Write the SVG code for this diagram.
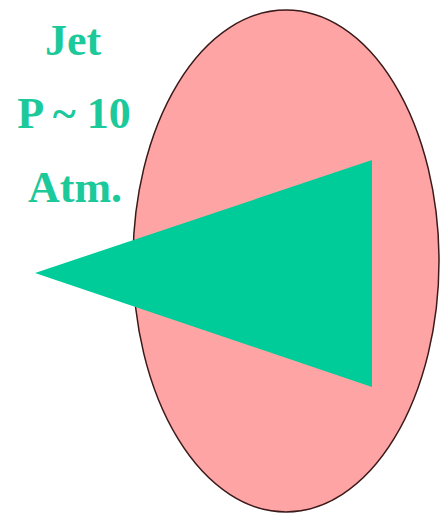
<svg xmlns="http://www.w3.org/2000/svg" width="440" height="515" viewBox="0 0 440 515">
<style>
.lbl{font-family:"Liberation Serif","Times New Roman",serif;font-weight:bold;font-size:44px;fill:#1cc99a;text-anchor:middle}
</style>
<rect width="440" height="515" fill="#ffffff"/>
<g id="target">
<ellipse cx="286" cy="261" rx="153" ry="251" fill="#ffa4a4" stroke="#3a1a1a" stroke-width="1.5"/>
</g>
<g id="jet">
<polygon points="35,273 372,160 372,387" fill="#00cc99"/>
</g>
<g id="label">
<text class="lbl" x="73" y="55">Jet</text>
<text class="lbl" x="74" y="128">P ~ 10</text>
<text class="lbl" x="75" y="202">Atm.</text>
</g>
</svg>
